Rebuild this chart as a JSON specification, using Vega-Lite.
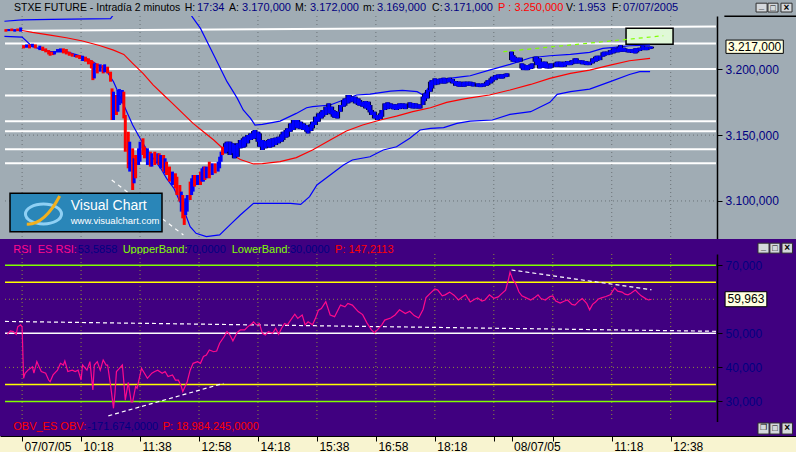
{
"$schema": "https://vega.github.io/schema/vega-lite/v6.json",
"background": "#f8f4d0",
"padding": 0,
"spacing": 0,
"bounds": "flush",
"config": {"view": {"stroke": null}, "font": "Liberation Sans", "axis": {"grid": false, "title": null}, "locale": {"number": {"decimal": ",", "thousands": ".", "grouping": [3], "currency": ["", " €"]}}},
"datasets": {
"grid": [{"i":0},{"i":40},{"i":80},{"i":120},{"i":160},{"i":200},{"i":240},{"i":280},{"i":320},{"i":360},{"i":400},{"i":440}],
"sr": [{"i1":0,"i2":470.7,"v1":3229.3,"v2":3232.6},{"i1":-11.6,"i2":470.7,"v1":3219.7,"v2":3219.7},{"i1":-11.6,"i2":470.7,"v1":3200.2,"v2":3200.2},{"i1":-11.6,"i2":470.7,"v1":3180.2,"v2":3180.2},{"i1":-11.6,"i2":470.7,"v1":3160.5,"v2":3160.5},{"i1":-11.6,"i2":470.7,"v1":3152.9,"v2":3152.9},{"i1":-11.6,"i2":470.7,"v1":3139.2,"v2":3139.2},{"i1":-11.6,"i2":470.7,"v1":3128.6,"v2":3128.6}],
"ptr": [{"k":"w","i1":60.8,"i2":109.4,"v1":3115.9,"v2":3074.2},{"k":"g","i1":326.5,"i2":435,"v1":3213.4,"v2":3225.5}],
"rtr": [{"i1":-11.6,"i2":471,"v1":53.5,"v2":50.6},{"i1":58.5,"i2":136.5,"v1":25.8,"v2":35.3},{"i1":332,"i2":427,"v1":68.6,"v2":62.8}],
"lev": [{"v":70,"k":"b"},{"v":30,"k":"b"},{"v":65,"k":"y"},{"v":35,"k":"y"},{"v":50,"k":"w"}],
"lines": [
{"s":"ma","i":-11,"v":3230.0},{"s":"ma","i":0,"v":3229.5},{"s":"ma","i":7,"v":3228.0},{"s":"ma","i":19,"v":3226.0},{"s":"ma","i":30,"v":3224.0},{"s":"ma","i":41,"v":3221.5},{"s":"ma","i":53,"v":3217.9},{"s":"ma","i":62,"v":3214.6},{"s":"ma","i":69,"v":3211.3},{"s":"ma","i":75,"v":3204.5},{"s":"ma","i":82,"v":3196.9},{"s":"ma","i":89,"v":3188.0},{"s":"ma","i":96,"v":3180.5},{"s":"ma","i":102,"v":3174.1},{"s":"ma","i":109,"v":3166.5},{"s":"ma","i":116,"v":3158.9},{"s":"ma","i":123,"v":3152.6},{"s":"ma","i":130,"v":3146.3},{"s":"ma","i":136,"v":3140.0},{"s":"ma","i":143,"v":3134.9},{"s":"ma","i":148,"v":3131.5},{"s":"ma","i":157,"v":3128.1},{"s":"ma","i":163,"v":3128.3},{"s":"ma","i":175,"v":3129.9},{"s":"ma","i":186,"v":3132.9},{"s":"ma","i":197,"v":3138.7},{"s":"ma","i":209,"v":3146.3},{"s":"ma","i":220,"v":3153.1},{"s":"ma","i":231,"v":3157.7},{"s":"ma","i":243,"v":3161.5},{"s":"ma","i":254,"v":3164.5},{"s":"ma","i":265,"v":3167.8},{"s":"ma","i":277,"v":3170.8},{"s":"ma","i":288,"v":3174.9},{"s":"ma","i":299,"v":3177.4},{"s":"ma","i":304,"v":3178.3},{"s":"ma","i":317,"v":3180.5},{"s":"ma","i":331,"v":3184.3},{"s":"ma","i":345,"v":3188.5},{"s":"ma","i":358,"v":3193.1},{"s":"ma","i":372,"v":3196.9},{"s":"ma","i":385,"v":3199.4},{"s":"ma","i":399,"v":3203.2},{"s":"ma","i":412,"v":3206.5},{"s":"ma","i":426,"v":3208.3},
{"s":"ub","i":-12,"v":3236.5},{"s":"ub","i":0,"v":3237.5},{"s":"ub","i":20,"v":3238.0},{"s":"ub","i":60,"v":3238.5},{"s":"ub","i":63,"v":3243},{"s":"ub","i":67,"v":3262},{"s":"ub","i":112,"v":3262},{"s":"ub","i":115,"v":3240.5},{"s":"ub","i":121,"v":3231.1},{"s":"ub","i":130,"v":3210.8},{"s":"ub","i":139,"v":3190.6},{"s":"ub","i":141,"v":3187.0},{"s":"ub","i":146,"v":3177.9},{"s":"ub","i":150,"v":3169.1},{"s":"ub","i":155,"v":3162.7},{"s":"ub","i":158,"v":3157.7},{"s":"ub","i":163,"v":3158.2},{"s":"ub","i":175,"v":3160.7},{"s":"ub","i":186,"v":3166.5},{"s":"ub","i":193,"v":3170.8},{"s":"ub","i":197,"v":3171.6},{"s":"ub","i":209,"v":3172.9},{"s":"ub","i":218,"v":3176.7},{"s":"ub","i":227,"v":3180.5},{"s":"ub","i":236,"v":3181.2},{"s":"ub","i":250,"v":3183.5},{"s":"ub","i":258,"v":3184.0},{"s":"ub","i":268,"v":3183.0},{"s":"ub","i":272,"v":3180.5},{"s":"ub","i":277,"v":3188.0},{"s":"ub","i":280,"v":3190.6},{"s":"ub","i":290,"v":3193.1},{"s":"ub","i":299,"v":3194.4},{"s":"ub","i":304,"v":3195.1},{"s":"ub","i":317,"v":3199.4},{"s":"ub","i":331,"v":3203.7},{"s":"ub","i":345,"v":3208.8},{"s":"ub","i":358,"v":3210.3},{"s":"ub","i":372,"v":3211.3},{"s":"ub","i":385,"v":3212.9},{"s":"ub","i":394,"v":3215.9},{"s":"ub","i":404,"v":3216.9},{"s":"ub","i":412,"v":3217.9},{"s":"ub","i":426,"v":3218.4},
{"s":"lb","i":-12,"v":3225.0},{"s":"lb","i":0,"v":3224.5},{"s":"lb","i":7,"v":3217.2},{"s":"lb","i":19,"v":3213.4},{"s":"lb","i":30,"v":3213.4},{"s":"lb","i":41,"v":3209.6},{"s":"lb","i":48,"v":3205.8},{"s":"lb","i":57,"v":3199.4},{"s":"lb","i":62,"v":3190.6},{"s":"lb","i":66,"v":3180.5},{"s":"lb","i":71,"v":3167.8},{"s":"lb","i":75,"v":3157.7},{"s":"lb","i":80,"v":3147.6},{"s":"lb","i":84,"v":3140.0},{"s":"lb","i":89,"v":3132.4},{"s":"lb","i":94,"v":3124.8},{"s":"lb","i":98,"v":3117.2},{"s":"lb","i":103,"v":3109.6},{"s":"lb","i":107,"v":3099.5},{"s":"lb","i":111,"v":3089.3},{"s":"lb","i":114,"v":3080.5},{"s":"lb","i":118,"v":3075.4},{"s":"lb","i":125,"v":3072.9},{"s":"lb","i":134,"v":3074.2},{"s":"lb","i":141,"v":3081.8},{"s":"lb","i":148,"v":3089.3},{"s":"lb","i":157,"v":3098.2},{"s":"lb","i":182,"v":3098.2},{"s":"lb","i":189,"v":3097.4},{"s":"lb","i":195,"v":3103.3},{"s":"lb","i":200,"v":3112.1},{"s":"lb","i":209,"v":3119.7},{"s":"lb","i":218,"v":3127.3},{"s":"lb","i":224,"v":3131.1},{"s":"lb","i":236,"v":3133.6},{"s":"lb","i":245,"v":3138.7},{"s":"lb","i":254,"v":3141.2},{"s":"lb","i":263,"v":3147.6},{"s":"lb","i":270,"v":3153.9},{"s":"lb","i":277,"v":3155.1},{"s":"lb","i":286,"v":3155.7},{"s":"lb","i":295,"v":3158.9},{"s":"lb","i":304,"v":3160.7},{"s":"lb","i":319,"v":3161.5},{"s":"lb","i":331,"v":3165.8},{"s":"lb","i":345,"v":3167.8},{"s":"lb","i":358,"v":3174.9},{"s":"lb","i":363,"v":3181.0},{"s":"lb","i":372,"v":3183.0},{"s":"lb","i":385,"v":3185.0},{"s":"lb","i":399,"v":3190.6},{"s":"lb","i":412,"v":3196.1},{"s":"lb","i":419,"v":3198.2},{"s":"lb","i":426,"v":3198.2}
],
"bars": [
{"i":-11,"l":3228.6,"h":3230.5,"c":"d"},{"i":-9,"l":3229.0,"h":3230.6,"c":"u"},{"i":-7,"l":3229.0,"h":3231.0,"c":"d"},{"i":-5,"l":3228.6,"h":3230.5,"c":"u"},{"i":-3,"l":3229.0,"h":3231.0,"c":"d"},{"i":-1,"l":3228.6,"h":3231.8,"c":"u"},
{"i":1,"l":3215.9,"h":3218.4,"c":"d"},{"i":3,"l":3216.4,"h":3218.9,"c":"u"},{"i":5,"l":3215.9,"h":3218.9,"c":"d"},{"i":7,"l":3216.9,"h":3219.4,"c":"u"},{"i":9,"l":3215.9,"h":3218.9,"c":"d"},{"i":12,"l":3214.6,"h":3217.9,"c":"u"},{"i":14,"l":3213.9,"h":3217.2,"c":"d"},{"i":16,"l":3212.9,"h":3215.9,"c":"d"},{"i":18,"l":3211.3,"h":3214.6,"c":"d"},{"i":19,"l":3210.3,"h":3213.4,"c":"d"},{"i":21,"l":3210.8,"h":3213.4,"c":"d"},{"i":22,"l":3211.3,"h":3213.9,"c":"u"},{"i":24,"l":3212.9,"h":3215.4,"c":"u"},{"i":26,"l":3212.9,"h":3215.9,"c":"u"},{"i":28,"l":3212.1,"h":3215.9,"c":"d"},{"i":30,"l":3211.3,"h":3215.4,"c":"d"},{"i":32,"l":3210.3,"h":3213.4,"c":"d"},{"i":34,"l":3209.6,"h":3212.1,"c":"d"},{"i":36,"l":3209.3,"h":3211.3,"c":"u"},{"i":37,"l":3208.8,"h":3210.8,"c":"d"},{"i":39,"l":3207.8,"h":3210.8,"c":"d"},{"i":41,"l":3206.3,"h":3210.3,"c":"u"},{"i":43,"l":3205.8,"h":3209.6,"c":"d"},{"i":45,"l":3203.8,"h":3208.3,"c":"d"},{"i":47,"l":3200.7,"h":3207.0,"c":"d"},{"i":48,"l":3191.8,"h":3205.8,"c":"d"},{"i":49,"l":3193.1,"h":3204.5,"c":"u"},{"i":51,"l":3196.9,"h":3204.5,"c":"d"},{"i":53,"l":3198.2,"h":3203.8,"c":"u"},{"i":55,"l":3196.9,"h":3203.2,"c":"d"},{"i":56,"l":3197.7,"h":3203.8,"c":"u"},{"i":58,"l":3196.9,"h":3202.0,"c":"d"},{"i":60,"l":3190.6,"h":3198.2,"c":"d"},{"i":61,"l":3161.5,"h":3185.5,"c":"d"},{"i":62,"l":3161.5,"h":3183.0,"c":"u"},{"i":64,"l":3165.3,"h":3180.5,"c":"d"},{"i":65,"l":3167.8,"h":3184.3,"c":"u"},{"i":66,"l":3172.9,"h":3185.0,"c":"u"},{"i":68,"l":3174.1,"h":3184.3,"c":"u"},{"i":69,"l":3162.7,"h":3183.0,"c":"d"},{"i":70,"l":3137.4,"h":3165.3,"c":"d"},{"i":72,"l":3124.8,"h":3152.6,"c":"d"},{"i":73,"l":3122.3,"h":3145.0,"c":"u"},{"i":75,"l":3108.3,"h":3140.0,"c":"d"},{"i":76,"l":3113.4,"h":3132.4,"c":"u"},{"i":77,"l":3117.2,"h":3134.9,"c":"d"},{"i":79,"l":3127.3,"h":3140.0,"c":"u"},{"i":80,"l":3129.8,"h":3145.0,"c":"u"},{"i":82,"l":3134.9,"h":3147.6,"c":"d"},{"i":83,"l":3132.4,"h":3141.2,"c":"d"},{"i":85,"l":3127.3,"h":3140.0,"c":"u"},{"i":87,"l":3126.1,"h":3137.4,"c":"d"},{"i":88,"l":3126.1,"h":3136.2,"c":"u"},{"i":90,"l":3127.3,"h":3137.4,"c":"d"},{"i":92,"l":3128.6,"h":3136.2,"c":"u"},{"i":93,"l":3127.3,"h":3136.2,"c":"d"},{"i":94,"l":3124.8,"h":3134.9,"c":"u"},{"i":96,"l":3122.3,"h":3134.9,"c":"d"},{"i":97,"l":3121.0,"h":3132.4,"c":"u"},{"i":98,"l":3119.7,"h":3129.8,"c":"d"},{"i":100,"l":3114.7,"h":3126.1,"c":"d"},{"i":102,"l":3112.1,"h":3122.3,"c":"u"},{"i":104,"l":3109.6,"h":3121.0,"c":"d"},{"i":105,"l":3104.5,"h":3118.4,"c":"d"},{"i":107,"l":3099.5,"h":3112.1,"c":"d"},{"i":108,"l":3091.9,"h":3107.1,"c":"u"},{"i":109,"l":3086.8,"h":3104.5,"c":"d"},{"i":110,"l":3081.8,"h":3099.5,"c":"d"},{"i":111,"l":3089.3,"h":3102.0,"c":"u"},{"i":112,"l":3091.9,"h":3104.5,"c":"u"},{"i":114,"l":3100.7,"h":3114.7,"c":"d"},{"i":115,"l":3104.5,"h":3117.2,"c":"u"},{"i":116,"l":3107.1,"h":3119.7,"c":"u"},{"i":117,"l":3110.9,"h":3119.7,"c":"d"},{"i":119,"l":3112.1,"h":3119.7,"c":"u"},{"i":121,"l":3112.1,"h":3122.3,"c":"d"},{"i":122,"l":3114.7,"h":3124.8,"c":"u"},{"i":123,"l":3114.7,"h":3126.1,"c":"u"},{"i":124,"l":3115.9,"h":3126.1,"c":"d"},{"i":125,"l":3117.2,"h":3126.1,"c":"u"},{"i":127,"l":3117.2,"h":3129.8,"c":"d"},{"i":129,"l":3119.7,"h":3128.6,"c":"u"},{"i":131,"l":3121.0,"h":3128.6,"c":"d"},{"i":133,"l":3122.3,"h":3129.8,"c":"u"},{"i":134,"l":3124.8,"h":3133.6,"c":"u"},{"i":135,"l":3129.8,"h":3137.4,"c":"u"},{"i":136,"l":3134.9,"h":3141.2,"c":"d"},{"i":138,"l":3136.2,"h":3143.8,"c":"u"},{"i":139,"l":3137.4,"h":3145.0,"c":"u"},{"i":141,"l":3134.9,"h":3145.0,"c":"u"},{"i":143,"l":3136.2,"h":3143.8,"c":"u"},{"i":144,"l":3132.4,"h":3142.5,"c":"u"},{"i":146,"l":3133.6,"h":3143.8,"c":"u"},{"i":148,"l":3140.0,"h":3146.3,"c":"u"},{"i":150,"l":3140.5,"h":3147.6,"c":"u"},{"i":151,"l":3141.2,"h":3148.8,"c":"u"},{"i":153,"l":3143.8,"h":3150.1,"c":"u"},{"i":155,"l":3146.3,"h":3151.3,"c":"u"},{"i":157,"l":3147.1,"h":3153.1,"c":"u"},{"i":158,"l":3147.6,"h":3153.9,"c":"u"},{"i":160,"l":3145.0,"h":3152.6,"c":"u"},{"i":161,"l":3141.2,"h":3151.3,"c":"u"},{"i":163,"l":3138.7,"h":3146.3,"c":"u"},{"i":165,"l":3140.0,"h":3145.5,"c":"u"},{"i":167,"l":3141.2,"h":3146.3,"c":"u"},{"i":168,"l":3140.5,"h":3147.1,"c":"u"},{"i":170,"l":3141.2,"h":3147.6,"c":"u"},{"i":172,"l":3142.5,"h":3148.1,"c":"u"},{"i":174,"l":3143.8,"h":3148.8,"c":"u"},{"i":176,"l":3145.0,"h":3150.6,"c":"u"},{"i":177,"l":3146.3,"h":3152.6,"c":"u"},{"i":179,"l":3148.1,"h":3153.9,"c":"u"},{"i":180,"l":3148.8,"h":3155.2,"c":"u"},{"i":182,"l":3152.6,"h":3158.9,"c":"u"},{"i":184,"l":3153.9,"h":3161.5,"c":"u"},{"i":186,"l":3155.7,"h":3161.5,"c":"u"},{"i":187,"l":3155.2,"h":3161.5,"c":"u"},{"i":189,"l":3154.6,"h":3160.2,"c":"u"},{"i":191,"l":3153.9,"h":3158.9,"c":"u"},{"i":193,"l":3152.6,"h":3157.7,"c":"u"},{"i":194,"l":3151.3,"h":3156.4,"c":"u"},{"i":196,"l":3153.1,"h":3158.2,"c":"u"},{"i":197,"l":3155.2,"h":3160.2,"c":"u"},{"i":199,"l":3157.7,"h":3164.0,"c":"u"},{"i":201,"l":3160.2,"h":3166.5,"c":"u"},{"i":203,"l":3162.7,"h":3167.8,"c":"u"},{"i":204,"l":3164.0,"h":3169.1,"c":"u"},{"i":206,"l":3165.3,"h":3171.6,"c":"u"},{"i":208,"l":3166.5,"h":3174.1,"c":"u"},{"i":210,"l":3165.8,"h":3171.6,"c":"u"},{"i":211,"l":3164.0,"h":3169.1,"c":"u"},{"i":212,"l":3163.2,"h":3168.3,"c":"u"},{"i":214,"l":3162.7,"h":3167.8,"c":"u"},{"i":216,"l":3167.8,"h":3172.9,"c":"u"},{"i":218,"l":3171.6,"h":3176.7,"c":"u"},{"i":219,"l":3172.4,"h":3177.9,"c":"u"},{"i":221,"l":3174.1,"h":3180.5,"c":"u"},{"i":222,"l":3174.9,"h":3180.5,"c":"u"},{"i":224,"l":3175.4,"h":3179.2,"c":"u"},{"i":226,"l":3174.1,"h":3179.2,"c":"u"},{"i":228,"l":3172.9,"h":3177.9,"c":"u"},{"i":229,"l":3172.4,"h":3176.7,"c":"u"},{"i":231,"l":3171.6,"h":3175.4,"c":"u"},{"i":233,"l":3170.3,"h":3175.9,"c":"u"},{"i":235,"l":3169.1,"h":3175.4,"c":"u"},{"i":236,"l":3167.3,"h":3172.9,"c":"u"},{"i":237,"l":3165.3,"h":3169.1,"c":"u"},{"i":239,"l":3162.7,"h":3167.8,"c":"u"},{"i":241,"l":3161.5,"h":3165.3,"c":"u"},{"i":243,"l":3162.2,"h":3166.5,"c":"u"},{"i":244,"l":3164.0,"h":3169.1,"c":"u"},{"i":246,"l":3169.1,"h":3174.1,"c":"u"},{"i":248,"l":3169.8,"h":3174.9,"c":"u"},{"i":250,"l":3170.3,"h":3174.1,"c":"u"},{"i":252,"l":3169.6,"h":3173.4,"c":"u"},{"i":254,"l":3169.1,"h":3173.4,"c":"u"},{"i":256,"l":3169.8,"h":3174.1,"c":"u"},{"i":258,"l":3170.3,"h":3174.1,"c":"u"},{"i":260,"l":3169.8,"h":3173.9,"c":"u"},{"i":263,"l":3170.8,"h":3174.9,"c":"u"},{"i":265,"l":3170.3,"h":3174.4,"c":"u"},{"i":267,"l":3170.3,"h":3174.1,"c":"u"},{"i":269,"l":3170.3,"h":3173.4,"c":"u"},{"i":270,"l":3170.3,"h":3172.9,"c":"u"},{"i":272,"l":3172.9,"h":3179.2,"c":"u"},{"i":273,"l":3175.9,"h":3181.7,"c":"u"},{"i":275,"l":3177.9,"h":3184.3,"c":"u"},{"i":277,"l":3183.0,"h":3190.6,"c":"u"},{"i":278,"l":3185.5,"h":3191.8,"c":"u"},{"i":280,"l":3188.0,"h":3193.1,"c":"u"},{"i":282,"l":3188.5,"h":3192.6,"c":"u"},{"i":284,"l":3189.3,"h":3193.1,"c":"u"},{"i":286,"l":3189.3,"h":3193.6,"c":"u"},{"i":287,"l":3189.3,"h":3193.1,"c":"u"},{"i":289,"l":3190.1,"h":3193.1,"c":"u"},{"i":290,"l":3190.6,"h":3193.6,"c":"u"},{"i":292,"l":3189.3,"h":3192.6,"c":"u"},{"i":294,"l":3187.5,"h":3191.1,"c":"u"},{"i":296,"l":3187.0,"h":3190.6,"c":"u"},{"i":297,"l":3186.8,"h":3190.6,"c":"u"},{"i":299,"l":3187.0,"h":3190.1,"c":"u"},{"i":300,"l":3186.8,"h":3190.6,"c":"u"},{"i":302,"l":3187.5,"h":3190.6,"c":"u"},{"i":304,"l":3187.5,"h":3190.6,"c":"u"},{"i":306,"l":3187.0,"h":3190.1,"c":"u"},{"i":309,"l":3186.8,"h":3189.3,"c":"u"},{"i":311,"l":3186.5,"h":3189.1,"c":"u"},{"i":313,"l":3186.8,"h":3189.3,"c":"u"},{"i":315,"l":3187.5,"h":3190.6,"c":"u"},{"i":316,"l":3188.0,"h":3191.8,"c":"u"},{"i":318,"l":3189.3,"h":3193.1,"c":"u"},{"i":319,"l":3190.6,"h":3194.4,"c":"u"},{"i":321,"l":3191.8,"h":3195.6,"c":"u"},{"i":323,"l":3193.1,"h":3196.1,"c":"u"},{"i":325,"l":3193.1,"h":3196.1,"c":"u"},{"i":326,"l":3193.1,"h":3196.1,"c":"u"},{"i":328,"l":3194.1,"h":3196.6,"c":"u"},{"i":329,"l":3194.4,"h":3196.9,"c":"u"},
{"i":332,"l":3207.0,"h":3213.4,"c":"u"},{"i":333,"l":3205.8,"h":3210.8,"c":"u"},{"i":334,"l":3205.8,"h":3209.6,"c":"u"},{"i":336,"l":3205.3,"h":3208.8,"c":"u"},{"i":338,"l":3205.8,"h":3208.8,"c":"u"},{"i":339,"l":3200.7,"h":3204.5,"c":"u"},{"i":340,"l":3199.4,"h":3203.8,"c":"u"},{"i":342,"l":3199.4,"h":3203.2,"c":"u"},{"i":343,"l":3199.4,"h":3203.2,"c":"u"},{"i":345,"l":3200.2,"h":3203.8,"c":"u"},{"i":346,"l":3200.7,"h":3204.5,"c":"u"},{"i":348,"l":3205.8,"h":3209.6,"c":"u"},{"i":349,"l":3203.2,"h":3209.6,"c":"u"},{"i":351,"l":3200.7,"h":3208.3,"c":"u"},{"i":353,"l":3201.2,"h":3205.8,"c":"u"},{"i":355,"l":3201.2,"h":3205.8,"c":"u"},{"i":356,"l":3200.7,"h":3204.5,"c":"u"},{"i":358,"l":3200.7,"h":3203.8,"c":"u"},{"i":359,"l":3201.2,"h":3204.5,"c":"u"},{"i":362,"l":3202.0,"h":3205.0,"c":"u"},{"i":363,"l":3202.0,"h":3205.8,"c":"u"},{"i":365,"l":3202.0,"h":3205.8,"c":"u"},{"i":366,"l":3201.7,"h":3205.3,"c":"u"},{"i":368,"l":3202.0,"h":3205.8,"c":"u"},{"i":370,"l":3203.2,"h":3206.3,"c":"u"},{"i":372,"l":3203.2,"h":3205.8,"c":"u"},{"i":373,"l":3203.8,"h":3207.0,"c":"u"},{"i":375,"l":3204.5,"h":3208.3,"c":"u"},{"i":376,"l":3204.5,"h":3208.3,"c":"u"},{"i":378,"l":3204.5,"h":3207.0,"c":"u"},{"i":380,"l":3203.8,"h":3206.8,"c":"u"},{"i":382,"l":3203.8,"h":3206.3,"c":"u"},{"i":383,"l":3203.2,"h":3205.8,"c":"u"},{"i":385,"l":3203.2,"h":3205.8,"c":"u"},{"i":387,"l":3204.5,"h":3208.3,"c":"u"},{"i":389,"l":3205.8,"h":3209.6,"c":"u"},{"i":390,"l":3206.3,"h":3210.3,"c":"u"},{"i":392,"l":3207.0,"h":3210.3,"c":"u"},{"i":394,"l":3209.6,"h":3212.9,"c":"u"},{"i":395,"l":3210.3,"h":3213.4,"c":"u"},{"i":397,"l":3210.8,"h":3213.4,"c":"u"},{"i":399,"l":3211.3,"h":3214.6,"c":"u"},{"i":401,"l":3212.1,"h":3215.9,"c":"u"},{"i":402,"l":3212.9,"h":3215.9,"c":"u"},{"i":404,"l":3212.9,"h":3215.9,"c":"u"},{"i":405,"l":3213.4,"h":3217.2,"c":"u"},{"i":406,"l":3213.4,"h":3218.4,"c":"u"},{"i":408,"l":3213.4,"h":3216.4,"c":"u"},{"i":409,"l":3213.4,"h":3215.9,"c":"u"},{"i":411,"l":3212.9,"h":3215.4,"c":"u"},{"i":412,"l":3212.9,"h":3215.4,"c":"u"},{"i":414,"l":3212.4,"h":3215.4,"c":"u"},{"i":416,"l":3212.1,"h":3215.9,"c":"u"},{"i":417,"l":3212.9,"h":3215.9,"c":"u"},{"i":419,"l":3213.9,"h":3216.4,"c":"u"},{"i":421,"l":3214.6,"h":3217.9,"c":"u"},{"i":423,"l":3214.6,"h":3217.2,"c":"u"},{"i":424,"l":3214.6,"h":3217.2,"c":"u"},{"i":426,"l":3215.4,"h":3217.2,"c":"u"},{"i":427,"l":3215.9,"h":3217.2,"c":"u"}
],
"rsi": [
{"i":-10,"r":49.7},{"i":-8,"r":50.7},{"i":-6,"r":50.5},{"i":-4,"r":49.7},{"i":-3,"r":51.9},{"i":-1,"r":52.5},{"i":0,"r":51.9},{"i":1,"r":36.8},{"i":2,"r":38.3},{"i":4,"r":39.2},{"i":7,"r":40.2},{"i":8,"r":38.3},{"i":10,"r":41.7},{"i":11,"r":40.7},{"i":13,"r":38.8},{"i":16,"r":38.3},{"i":18,"r":36.3},{"i":19,"r":35.8},{"i":21,"r":37.8},{"i":24,"r":39.2},{"i":26,"r":41.2},{"i":28,"r":40.7},{"i":29,"r":41.9},{"i":31,"r":38.8},{"i":34,"r":39.2},{"i":36,"r":38.8},{"i":38,"r":39.2},{"i":40,"r":36.3},{"i":41,"r":40.7},{"i":44,"r":39.2},{"i":46,"r":41.7},{"i":48,"r":33.4},{"i":49,"r":40.7},{"i":51,"r":41.7},{"i":53,"r":39.2},{"i":55,"r":42.2},{"i":57,"r":40.7},{"i":58,"r":40.7},{"i":60,"r":34.8},{"i":62,"r":28.0},{"i":63,"r":32.4},{"i":64,"r":38.8},{"i":66,"r":39.7},{"i":68,"r":40.7},{"i":69,"r":35.8},{"i":70,"r":30.4},{"i":72,"r":35.6},{"i":74,"r":29.9},{"i":75,"r":29.9},{"i":77,"r":34.4},{"i":78,"r":33.9},{"i":79,"r":35.8},{"i":81,"r":39.7},{"i":83,"r":38.3},{"i":85,"r":36.8},{"i":88,"r":38.3},{"i":90,"r":38.8},{"i":92,"r":39.2},{"i":95,"r":38.3},{"i":97,"r":38.8},{"i":99,"r":37.3},{"i":102,"r":37.8},{"i":104,"r":36.3},{"i":106,"r":36.3},{"i":108,"r":34.4},{"i":109,"r":32.9},{"i":112,"r":35.8},{"i":114,"r":39.2},{"i":116,"r":41.2},{"i":119,"r":41.7},{"i":121,"r":41.2},{"i":123,"r":43.2},{"i":125,"r":43.6},{"i":127,"r":45.1},{"i":130,"r":44.6},{"i":132,"r":44.8},{"i":134,"r":47.1},{"i":137,"r":49.0},{"i":139,"r":50.5},{"i":141,"r":49.5},{"i":143,"r":47.8},{"i":146,"r":50.3},{"i":148,"r":51.0},{"i":151,"r":51.0},{"i":153,"r":51.9},{"i":156,"r":52.9},{"i":157,"r":53.4},{"i":159,"r":52.5},{"i":161,"r":52.9},{"i":163,"r":50.0},{"i":165,"r":49.5},{"i":167,"r":50.5},{"i":170,"r":50.0},{"i":172,"r":51.5},{"i":174,"r":49.7},{"i":176,"r":51.5},{"i":178,"r":52.9},{"i":180,"r":52.5},{"i":183,"r":54.4},{"i":185,"r":55.6},{"i":187,"r":54.4},{"i":190,"r":55.4},{"i":192,"r":52.5},{"i":194,"r":53.4},{"i":197,"r":52.5},{"i":199,"r":54.4},{"i":201,"r":56.8},{"i":203,"r":57.3},{"i":206,"r":59.3},{"i":209,"r":55.4},{"i":212,"r":54.9},{"i":216,"r":58.3},{"i":219,"r":57.8},{"i":221,"r":58.8},{"i":224,"r":58.3},{"i":228,"r":56.4},
{"i":231,"r":55.5},{"i":234,"r":53.0},{"i":237,"r":51.0},{"i":239,"r":50.2},{"i":241,"r":51.0},{"i":244,"r":52.5},{"i":246,"r":53.9},{"i":250,"r":54.5},{"i":253,"r":55.4},{"i":256,"r":56.9},{"i":260,"r":55.8},{"i":263,"r":56.5},{"i":266,"r":55.2},{"i":269,"r":54.5},{"i":272,"r":57.0},{"i":274,"r":60.5},{"i":277,"r":61.8},{"i":280,"r":63.0},{"i":282,"r":62.7},{"i":285,"r":61.0},{"i":287,"r":61.3},{"i":290,"r":62.1},{"i":293,"r":61.2},{"i":296,"r":59.8},{"i":299,"r":60.8},{"i":301,"r":61.3},{"i":304,"r":59.2},{"i":307,"r":60.0},{"i":309,"r":60.4},{"i":312,"r":59.5},{"i":314,"r":59.8},{"i":317,"r":61.3},{"i":320,"r":60.3},{"i":323,"r":60.7},{"i":325,"r":61.5},{"i":328,"r":62.7},{"i":330,"r":66.0},{"i":331,"r":68.0},{"i":333,"r":65.7},{"i":335,"r":64.5},{"i":337,"r":62.2},{"i":339,"r":61.0},{"i":342,"r":60.4},{"i":345,"r":59.8},{"i":348,"r":60.6},{"i":350,"r":61.3},{"i":352,"r":60.2},{"i":355,"r":59.8},{"i":358,"r":60.8},{"i":360,"r":61.0},{"i":362,"r":59.5},{"i":365,"r":58.9},{"i":368,"r":59.5},{"i":370,"r":59.8},{"i":373,"r":58.5},{"i":375,"r":58.3},{"i":378,"r":59.6},{"i":380,"r":60.2},{"i":383,"r":58.8},{"i":385,"r":56.9},{"i":387,"r":58.5},{"i":389,"r":59.2},{"i":391,"r":60.1},{"i":393,"r":60.4},{"i":396,"r":60.8},{"i":399,"r":61.3},{"i":402,"r":63.3},{"i":404,"r":62.4},{"i":407,"r":62.1},{"i":409,"r":61.5},{"i":411,"r":61.3},{"i":413,"r":61.8},{"i":416,"r":62.7},{"i":418,"r":61.8},{"i":420,"r":61.0},{"i":423,"r":60.2},{"i":425,"r":59.8},{"i":427,"r":60.0}
]
},
"vconcat": [
{
"width": 796, "height": 16,
"view": {"fill": "#a0acb4", "stroke": null},
"data": {"values": [{}]},
"layer": [
{"mark": {"type":"text","align":"left","baseline":"middle","fontSize":10.5,"color":"#000000"},"encoding":{"x":{"datum":-5.5,"scale":{"domain":[-15,525],"nice":false,"zero":false},"axis":null},"y":{"datum":0.5,"scale":{"domain":[0,1]},"axis":null},"text":{"value":"STXE FUTURE - Intradía 2 minutos"}}},
{"mark": {"type":"text","align":"left","baseline":"middle","fontSize":10.5,"color":"#000000"},"encoding":{"x":{"datum":110.3,"axis":null},"y":{"datum":0.5,"axis":null},"text":{"value":"H:"}}},
{"mark": {"type":"text","align":"left","baseline":"middle","fontSize":11,"color":"#000080"},"encoding":{"x":{"datum":118.6,"axis":null},"y":{"datum":0.5,"axis":null},"text":{"value":"17:34"}}},
{"mark": {"type":"text","align":"left","baseline":"middle","fontSize":10.5,"color":"#000000"},"encoding":{"x":{"datum":140.4,"axis":null},"y":{"datum":0.5,"axis":null},"text":{"value":"A:"}}},
{"mark": {"type":"text","align":"left","baseline":"middle","fontSize":11,"color":"#000080"},"encoding":{"x":{"datum":149.2,"axis":null},"y":{"datum":0.5,"axis":null},"text":{"value":"3.170,000"}}},
{"mark": {"type":"text","align":"left","baseline":"middle","fontSize":10.5,"color":"#000000"},"encoding":{"x":{"datum":185.1,"axis":null},"y":{"datum":0.5,"axis":null},"text":{"value":"M:"}}},
{"mark": {"type":"text","align":"left","baseline":"middle","fontSize":11,"color":"#000080"},"encoding":{"x":{"datum":195.3,"axis":null},"y":{"datum":0.5,"axis":null},"text":{"value":"3.172,000"}}},
{"mark": {"type":"text","align":"left","baseline":"middle","fontSize":10.5,"color":"#000000"},"encoding":{"x":{"datum":231.3,"axis":null},"y":{"datum":0.5,"axis":null},"text":{"value":"m:"}}},
{"mark": {"type":"text","align":"left","baseline":"middle","fontSize":11,"color":"#000080"},"encoding":{"x":{"datum":240.8,"axis":null},"y":{"datum":0.5,"axis":null},"text":{"value":"3.169,000"}}},
{"mark": {"type":"text","align":"left","baseline":"middle","fontSize":10.5,"color":"#000000"},"encoding":{"x":{"datum":278.1,"axis":null},"y":{"datum":0.5,"axis":null},"text":{"value":"C:"}}},
{"mark": {"type":"text","align":"left","baseline":"middle","fontSize":11,"color":"#000080"},"encoding":{"x":{"datum":286.2,"axis":null},"y":{"datum":0.5,"axis":null},"text":{"value":"3.171,000"}}},
{"mark": {"type":"text","align":"left","baseline":"middle","fontSize":11,"color":"#ff0000"},"encoding":{"x":{"datum":322.9,"axis":null},"y":{"datum":0.5,"axis":null},"text":{"value":"P : 3.250,000"}}},
{"mark": {"type":"text","align":"left","baseline":"middle","fontSize":10.5,"color":"#000000"},"encoding":{"x":{"datum":369.0,"axis":null},"y":{"datum":0.5,"axis":null},"text":{"value":"V:"}}},
{"mark": {"type":"text","align":"left","baseline":"middle","fontSize":11,"color":"#000080"},"encoding":{"x":{"datum":377.1,"axis":null},"y":{"datum":0.5,"axis":null},"text":{"value":"1.953"}}},
{"mark": {"type":"text","align":"left","baseline":"middle","fontSize":10.5,"color":"#000000"},"encoding":{"x":{"datum":400.2,"axis":null},"y":{"datum":0.5,"axis":null},"text":{"value":"F:"}}},
{"mark": {"type":"text","align":"left","baseline":"middle","fontSize":11,"color":"#000080"},"encoding":{"x":{"datum":407.7,"axis":null},"y":{"datum":0.5,"axis":null},"text":{"value":"07/07/2005"}}},
{"mark": {"type":"rect","fill":"#d4d8dc","stroke":"#303030","strokeWidth":1},"encoding":{"x":{"datum":497.9,"axis":null},"x2":{"datum":505.4},"y":{"datum":0.8,"axis":null},"y2":{"datum":0.25}}},
{"mark": {"type":"rect","fill":"#d4d8dc","stroke":"#303030","strokeWidth":1},"encoding":{"x":{"datum":506.0,"axis":null},"x2":{"datum":512.8},"y":{"datum":0.8,"axis":null},"y2":{"datum":0.25}}},
{"mark": {"type":"rect","fill":"#d4d8dc","stroke":"#303030","strokeWidth":1},"encoding":{"x":{"datum":514.8,"axis":null},"x2":{"datum":522.3},"y":{"datum":0.8,"axis":null},"y2":{"datum":0.25}}},
{"mark": {"type":"text","align":"center","baseline":"middle","fontSize":9,"fontWeight":"bold","color":"#000000"},"encoding":{"x":{"datum":501.6,"axis":null},"y":{"datum":0.6,"axis":null},"text":{"value":"_"}}},
{"mark": {"type":"text","align":"center","baseline":"middle","fontSize":9,"color":"#000000"},"encoding":{"x":{"datum":509.4,"axis":null},"y":{"datum":0.5,"axis":null},"text":{"value":"□"}}},
{"mark": {"type":"text","align":"center","baseline":"middle","fontSize":10,"fontWeight":"bold","color":"#000000"},"encoding":{"x":{"datum":518.5,"axis":null},"y":{"datum":0.5,"axis":null},"text":{"value":"×"}}}
]
},
{
"width": 796, "height": 223,
"view": {"fill": "#a0acb4", "stroke": null},
"resolve": {"scale": {"color": "independent"}},
"layer": [
{"data": {"name":"grid"},"mark":{"type":"rule","color":"#6a7277","strokeDash":[1,3]},"encoding":{"x":{"field":"i","type":"quantitative","scale":{"domain":[-15,525],"nice":false,"zero":false},"axis":null}}},
{"data": {"values":[{"v":3100},{"v":3150},{"v":3200}]},"mark":{"type":"rule","color":"#6a7277","strokeDash":[1,3]},"encoding":{"x":{"datum":-11.6,"axis":null},"x2":{"datum":470.7},"y":{"field":"v","type":"quantitative","scale":{"domain":[3071.1,3240.5],"nice":false,"zero":false},"axis":{"orient":"right","offset":-79,"values":[3100,3150,3200],"format":",.3f","labelColor":"#000080","labelFontSize":12,"labelFont":"Liberation Sans","labelPadding":3,"tickSize":5,"tickColor":"#000000","domainColor":"#000000","domainWidth":1.5,"grid":false,"title":null,"labelFlush":false,"labelOverlap":false,"labelBound":false}}}},
{"data": {"name":"sr"},"mark":{"type":"rule","color":"#ffffff","strokeWidth":2},"encoding":{"x":{"field":"i1","type":"quantitative","axis":null},"x2":{"field":"i2"},"y":{"field":"v1","type":"quantitative"},"y2":{"field":"v2"}}},
{"data": {"values":[{}]},"mark":{"type":"rule","color":"#000000","strokeWidth":1.5},"encoding":{"x":{"datum":476.4,"axis":null},"x2":{"datum":525},"y":{"datum":3240.3}}},
{"data": {"values":[{}]},"mark":{"type":"rect","fill":"#e0f8d8","stroke":"#000000","strokeWidth":1.5},"encoding":{"x":{"datum":409.7,"axis":null},"x2":{"datum":441.6},"y":{"datum":3231.1},"y2":{"datum":3219.0}}},
{"data": {"name":"ptr"},"mark":{"type":"rule","strokeDash":[4,4],"strokeWidth":1.2},"encoding":{"x":{"field":"i1","type":"quantitative","axis":null},"x2":{"field":"i2"},"y":{"field":"v1","type":"quantitative"},"y2":{"field":"v2"},"color":{"field":"k","type":"nominal","scale":{"domain":["w","g"],"range":["#ffffff","#80ff00"]},"legend":null}}},
{"data": {"name":"lines"},"mark":{"type":"line","strokeWidth":1.2,"clip":true},"encoding":{"x":{"field":"i","type":"quantitative","axis":null},"y":{"field":"v","type":"quantitative"},"color":{"field":"s","type":"nominal","scale":{"domain":["ma","ub","lb"],"range":["#ff0000","#0000ff","#0000ff"]},"legend":null}}},
{"data": {"name":"bars"},"transform":[{"filter":"datum.i >= 138"}],"mark":{"type":"rule","strokeWidth":5,"color":"#000040","clip":true},"encoding":{"x":{"field":"i","type":"quantitative","axis":null},"y":{"field":"l","type":"quantitative"},"y2":{"field":"h"}}},
{"data": {"name":"bars"},"mark":{"type":"rule","strokeWidth":3,"clip":true},"encoding":{"x":{"field":"i","type":"quantitative","axis":null},"y":{"field":"l","type":"quantitative"},"y2":{"field":"h"},"color":{"field":"c","type":"nominal","scale":{"domain":["u","d"],"range":["#0000ff","#ff0000"]},"legend":null}}},
{"data": {"values":[{}]},"mark":{"type":"rect","fill":"#2a86b8","stroke":"#000000","strokeWidth":1.5},"encoding":{"x":{"datum":-8.2,"axis":null},"x2":{"datum":94.9},"y":{"datum":3105.8},"y2":{"datum":3076.7}}},
{"data": {"values":[{}]},"mark":{"type":"point","shape":"M -1 0 A 1 0.55 0 1 0 1 0 A 1 0.55 0 1 0 -1 0 Z","size":1300,"stroke":"#8fd0f4","strokeWidth":3,"filled":false,"opacity":1},"encoding":{"x":{"datum":14.5,"axis":null},"y":{"datum":3090.1}}},
{"data": {"values":[{}]},"mark":{"type":"point","shape":"M -0.9 0.55 Q 0 0.6 0.8 -0.9","size":1500,"stroke":"#f2b01e","strokeWidth":3,"filled":false,"opacity":1},"encoding":{"x":{"datum":15,"axis":null},"y":{"datum":3090.5}}},
{"data": {"values":[{}]},"mark":{"type":"text","align":"left","baseline":"middle","fontSize":14,"color":"#ffffff"},"encoding":{"x":{"datum":33,"axis":null},"y":{"datum":3096.2},"text":{"value":"Visual Chart"}}},
{"data": {"values":[{}]},"mark":{"type":"text","align":"left","baseline":"middle","fontSize":9.5,"color":"#ffffff"},"encoding":{"x":{"datum":33,"axis":null},"y":{"datum":3084.8},"text":{"value":"www.visualchart.com"}}},
{"data": {"values":[{}]},"mark":{"type":"rect","fill":"#ffffe0","stroke":"#000000","strokeWidth":1},"encoding":{"x":{"datum":477.5,"axis":null},"x2":{"datum":516.4},"y":{"datum":3222.2},"y2":{"datum":3212.1}}},
{"data": {"values":[{}]},"mark":{"type":"text","align":"left","baseline":"middle","fontSize":12,"color":"#000000"},"encoding":{"x":{"datum":478.8,"axis":null},"y":{"datum":3217},"text":{"value":"3.217,000"}}}
]
},
{
"width": 796, "height": 15,
"view": {"fill": "#400080", "stroke": null},
"data": {"values": [{}]},
"layer": [
{"mark": {"type":"text","align":"left","baseline":"middle","fontSize":11,"color":"#ff0a8c"},"encoding":{"x":{"datum":-6,"scale":{"domain":[-15,525],"nice":false,"zero":false},"axis":null},"y":{"datum":0.29,"scale":{"domain":[0,1]},"axis":null},"text":{"value":"RSI_ES RSI:"}}},
{"mark": {"type":"text","align":"left","baseline":"middle","fontSize":11,"color":"#000080"},"encoding":{"x":{"datum":37.7,"axis":null},"y":{"datum":0.29,"axis":null},"text":{"value":"53,5858"}}},
{"mark": {"type":"text","align":"left","baseline":"middle","fontSize":11,"color":"#80ff00"},"encoding":{"x":{"datum":68.2,"axis":null},"y":{"datum":0.29,"axis":null},"text":{"value":"UppperBand:"}}},
{"mark": {"type":"text","align":"left","baseline":"middle","fontSize":11,"color":"#000080"},"encoding":{"x":{"datum":111.2,"axis":null},"y":{"datum":0.29,"axis":null},"text":{"value":"70,0000"}}},
{"mark": {"type":"text","align":"left","baseline":"middle","fontSize":11,"color":"#80ff00"},"encoding":{"x":{"datum":142.2,"axis":null},"y":{"datum":0.29,"axis":null},"text":{"value":"LowerBand:"}}},
{"mark": {"type":"text","align":"left","baseline":"middle","fontSize":11,"color":"#000080"},"encoding":{"x":{"datum":181.7,"axis":null},"y":{"datum":0.29,"axis":null},"text":{"value":"30,0000"}}},
{"mark": {"type":"text","align":"left","baseline":"middle","fontSize":11,"color":"#ff0000"},"encoding":{"x":{"datum":212.3,"axis":null},"y":{"datum":0.29,"axis":null},"text":{"value":"P: 147,2113"}}},
{"mark": {"type":"rect","fill":"#d4d8dc","stroke":"#303030","strokeWidth":1},"encoding":{"x":{"datum":499.2,"axis":null},"x2":{"datum":506.7},"y":{"datum":0.72,"axis":null},"y2":{"datum":0.06}}},
{"mark": {"type":"rect","fill":"#d4d8dc","stroke":"#303030","strokeWidth":1},"encoding":{"x":{"datum":507.3,"axis":null},"x2":{"datum":514.1},"y":{"datum":0.72,"axis":null},"y2":{"datum":0.06}}},
{"mark": {"type":"rect","fill":"#d4d8dc","stroke":"#303030","strokeWidth":1},"encoding":{"x":{"datum":515.5,"axis":null},"x2":{"datum":522.6},"y":{"datum":0.72,"axis":null},"y2":{"datum":0.06}}},
{"mark": {"type":"text","align":"center","baseline":"middle","fontSize":9,"fontWeight":"bold","color":"#000000"},"encoding":{"x":{"datum":503.0,"axis":null},"y":{"datum":0.5,"axis":null},"text":{"value":"_"}}},
{"mark": {"type":"text","align":"center","baseline":"middle","fontSize":9,"color":"#000000"},"encoding":{"x":{"datum":510.7,"axis":null},"y":{"datum":0.39,"axis":null},"text":{"value":"□"}}},
{"mark": {"type":"text","align":"center","baseline":"middle","fontSize":10,"fontWeight":"bold","color":"#000000"},"encoding":{"x":{"datum":519.0,"axis":null},"y":{"datum":0.39,"axis":null},"text":{"value":"×"}}}
]
},
{
"width": 796, "height": 168,
"view": {"fill": "#400080", "stroke": null},
"resolve": {"scale": {"color": "independent"}},
"layer": [
{"data": {"name":"grid"},"mark":{"type":"rule","color":"#8c8c3c","strokeDash":[1,3]},"encoding":{"x":{"field":"i","type":"quantitative","scale":{"domain":[-15,525],"nice":false,"zero":false},"axis":null}}},
{"data": {"values":[{"v":40},{"v":60}]},"mark":{"type":"rule","color":"#8c8c3c","strokeDash":[1,3]},"encoding":{"x":{"datum":-11.6,"axis":null},"x2":{"datum":470.7},"y":{"field":"v","type":"quantitative","scale":{"domain":[23.98,73.29],"nice":false,"zero":false},"axis":{"orient":"right","offset":-79,"values":[30,40,50,70],"format":",.3f","labelColor":"#000080","labelFontSize":12,"labelFont":"Liberation Sans","labelPadding":3,"tickSize":5,"tickColor":"#000000","domainColor":"#000000","domainWidth":1.5,"grid":false,"title":null,"labelFlush":false,"labelOverlap":false,"labelBound":false}}}},
{"data": {"name":"lev"},"mark":{"type":"rule","strokeWidth":1.5},"encoding":{"x":{"datum":-11.6,"axis":null},"x2":{"datum":470.7},"y":{"field":"v","type":"quantitative"},"color":{"field":"k","type":"nominal","scale":{"domain":["b","y","w"],"range":["#80ff00","#ffff00","#ffffff"]},"legend":null}}},
{"data": {"name":"rtr"},"mark":{"type":"rule","color":"#ffffff","strokeDash":[4,3],"strokeWidth":1.2},"encoding":{"x":{"field":"i1","type":"quantitative","axis":null},"x2":{"field":"i2"},"y":{"field":"v1","type":"quantitative"},"y2":{"field":"v2"}}},
{"data": {"name":"rsi"},"mark":{"type":"line","color":"#ff0a8c","strokeWidth":1.2,"clip":true},"encoding":{"x":{"field":"i","type":"quantitative","axis":null},"y":{"field":"r","type":"quantitative"}}},
{"data": {"values":[{}]},"mark":{"type":"rect","fill":"#ffffe0","stroke":"#000000","strokeWidth":1},"encoding":{"x":{"datum":476.9,"axis":null},"x2":{"datum":505.2},"y":{"datum":62.22},"y2":{"datum":57.82}}},
{"data": {"values":[{}]},"mark":{"type":"text","align":"left","baseline":"middle","fontSize":12,"color":"#000000"},"encoding":{"x":{"datum":478.6,"axis":null},"y":{"datum":59.96},"text":{"value":"59,963"}}}
]
},
{
"width": 796, "height": 14,
"view": {"fill": "#400080", "stroke": null},
"data": {"values": [{}]},
"layer": [
{"mark": {"type":"text","align":"left","baseline":"middle","fontSize":11,"color":"#ff0000"},"encoding":{"x":{"datum":-6,"scale":{"domain":[-15,525],"nice":false,"zero":false},"axis":{"orient":"bottom","values":[0,40,80,120,160,200,240,280,320,332,360,400,440],"labelExpr":"datum.value==0?'07/07/05':datum.value==40?'10:18':datum.value==80?'11:38':datum.value==120?'12:58':datum.value==160?'14:18':datum.value==200?'15:38':datum.value==240?'16:58':datum.value==280?'18:18':datum.value==332?'08/07/05':datum.value==400?'11:18':datum.value==440?'12:38':''","labelAlign":"left","labelBaseline":"top","labelPadding":0,"labelOffset":2,"labelFontSize":12,"labelFont":"Liberation Sans","labelColor":"#000000","tickSize":5,"tickColor":"#000000","domainColor":"#000000","grid":false,"title":null,"labelFlush":false,"labelOverlap":false,"labelBound":false}},"y":{"datum":0.62,"scale":{"domain":[0,1]},"axis":null},"text":{"value":"OBV_ES OBV:"}}},
{"mark": {"type":"text","align":"left","baseline":"middle","fontSize":11,"color":"#000080"},"encoding":{"x":{"datum":44.2},"y":{"datum":0.62,"axis":null},"text":{"value":"-171.674,0000"}}},
{"mark": {"type":"text","align":"left","baseline":"middle","fontSize":11,"color":"#ff0000"},"encoding":{"x":{"datum":95.4},"y":{"datum":0.62,"axis":null},"text":{"value":"P: 18.984.245,0000"}}},
{"mark": {"type":"rect","fill":"#d4d8dc","stroke":"#303030","strokeWidth":1},"encoding":{"x":{"datum":499.2},"x2":{"datum":506.7},"y":{"datum":0.93,"axis":null},"y2":{"datum":0.14}}},
{"mark": {"type":"rect","fill":"#d4d8dc","stroke":"#303030","strokeWidth":1},"encoding":{"x":{"datum":507.3},"x2":{"datum":514.1},"y":{"datum":0.93,"axis":null},"y2":{"datum":0.14}}},
{"mark": {"type":"rect","fill":"#d4d8dc","stroke":"#303030","strokeWidth":1},"encoding":{"x":{"datum":515.5},"x2":{"datum":522.6},"y":{"datum":0.93,"axis":null},"y2":{"datum":0.14}}},
{"mark": {"type":"text","align":"center","baseline":"middle","fontSize":8,"color":"#000000"},"encoding":{"x":{"datum":503.0},"y":{"datum":0.55,"axis":null},"text":{"value":"❐"}}},
{"mark": {"type":"text","align":"center","baseline":"middle","fontSize":9,"color":"#000000"},"encoding":{"x":{"datum":510.7},"y":{"datum":0.55,"axis":null},"text":{"value":"□"}}},
{"mark": {"type":"text","align":"center","baseline":"middle","fontSize":10,"fontWeight":"bold","color":"#000000"},"encoding":{"x":{"datum":519.0},"y":{"datum":0.55,"axis":null},"text":{"value":"×"}}}
]
}
]
}
